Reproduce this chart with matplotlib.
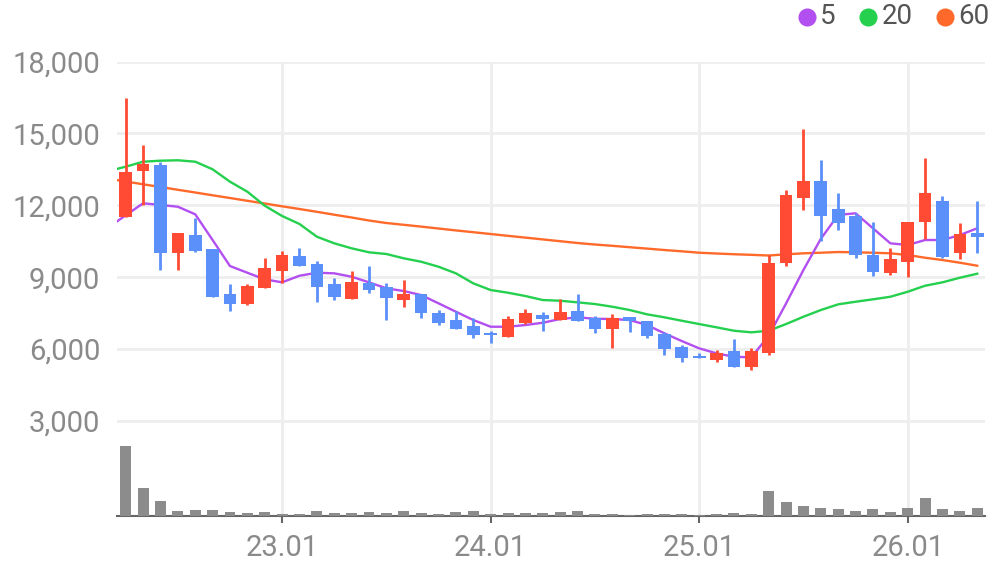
import matplotlib
matplotlib.use("Agg")
import matplotlib.pyplot as plt
from matplotlib.lines import Line2D
import numpy as np

plt.rcParams['font.family'] = ['Roboto', 'DejaVu Sans']

# ---- data (monthly candles, 2022-04 .. 2026-05) ----
opens  = [11500, 13430, 13670, 10010, 10750, 10170, 8290, 7890, 8550, 9260,
          9875, 9540, 8710, 8080, 8740, 8570, 8040, 8290, 7510, 7210,
          6960, 6680, 6510, 7100, 7430, 7210, 7580, 7300, 6820, 7330,
          7150, 6640, 6080, 5700, 5540, 5930, 5240, 5820, 9600, 12310,
          13000, 11860, 11550, 9920, 9180, 9640, 11300, 12170, 10010, 10860]
highs  = [16500, 14500, 13830, 10860, 11470, 10170, 8710, 8700, 9790, 10080,
          10220, 9670, 8950, 9250, 9460, 8740, 8875, 8290, 7625, 7580,
          7280, 6760, 7375, 7670, 7540, 8080, 8290, 7375, 7460, 7330,
          7150, 6720, 6170, 5850, 5960, 6420, 6030, 9940, 12625, 15170,
          13875, 12510, 11690, 11300, 10220, 11300, 13970, 12375, 11260, 12170]
lows   = [11500, 12000, 9290, 9290, 10050, 8180, 7600, 7850, 8550, 8760,
          9470, 7970, 8040, 8080, 8350, 7210, 7760, 7300, 7010, 6850,
          6470, 6240, 6510, 7040, 6760, 7210, 7170, 6680, 6050, 6720,
          6470, 5760, 5470, 5600, 5470, 5240, 5100, 5750, 9470, 11790,
          10510, 10960, 9800, 9050, 9080, 9010, 10610, 9800, 9750, 10010]
closes = [13400, 13740, 10010, 10860, 10100, 8180, 7890, 8625, 9375, 9920,
          9470, 8600, 8180, 8800, 8460, 8125, 8290, 7510, 7100, 6850,
          6570, 6590, 7250, 7500, 7240, 7540, 7170, 6820, 7300, 7150,
          6550, 5990, 5600, 5600, 5830, 5240, 5930, 9570, 12420, 13000,
          11550, 11240, 9920, 9220, 9750, 11300, 12510, 9850, 10790, 10680]
volumes = [700, 277, 147, 50, 60, 60, 40, 30, 40, 17,
           17, 50, 30, 30, 40, 30, 50, 30, 17, 40,
           50, 17, 30, 30, 30, 40, 50, 17, 17, 7,
           17, 17, 17, 7, 17, 30, 17, 247, 137, 97,
           77, 67, 50, 67, 40, 77, 177, 67, 50, 77]

# moving averages (index -1 .. 49)
ma5  = [11076, 11582, 12084, 12013, 11941, 11624, 10550, 9463, 9183, 8907, 8782,
        9058, 9183, 9158, 9016, 8782, 8531, 8419, 8251, 7905, 7554,
        7207, 6927, 6927, 6998, 7094, 7249, 7320, 7261, 7249, 7207,
        6998, 6651, 6329, 6024, 5815, 5673, 5648, 6550, 7900, 9300,
        10600, 11600, 11666, 11039, 10412, 10341, 10550, 10550, 10759, 11039]
ma20 = [13430, 13613, 13822, 13864, 13881, 13822, 13504, 12986, 12568, 11983, 11553,
        11219, 10688, 10412, 10203, 10036, 9965, 9785, 9643, 9434, 9158,
        8740, 8460, 8348, 8210, 8042, 8013, 7946, 7875, 7763, 7625,
        7445, 7320, 7177, 7039, 6902, 6760, 6693, 6760, 7039, 7345,
        7625, 7863, 7971, 8072, 8180, 8389, 8640, 8782, 8974, 9142]
ma60 = [13110, 12995, 12878, 12765, 12648, 12535, 12418, 12305, 12188, 12075, 11958,
        11845, 11728, 11607, 11490, 11365, 11260, 11185, 11110, 11030, 10951,
        10876, 10800, 10725, 10650, 10575, 10500, 10425, 10362, 10308, 10249,
        10191, 10132, 10078, 10019, 9986, 9956, 9931, 9902, 9952, 9994,
        10019, 10048, 10036, 10019, 9994, 9923, 9810, 9714, 9602, 9476]

y_ticks = [3000, 6000, 9000, 12000, 15000, 18000]
x_tick_pos = [9, 21, 33, 45]
x_tick_labels = ['23.01', '24.01', '25.01', '26.01']
legend_labels = ['5', '20', '60']

UP = '#ff4b33'
DOWN = '#5b8ff9'
C5, C20, C60 = '#b24ff0', '#25d04e', '#ff6a2b'
GRID = '#eeeeee'
TXT = '#8a8a8a'

fig = plt.figure(figsize=(9.96, 5.67), dpi=100)
ax = fig.add_axes([0.1175, 0.0908, 0.8715, 0.8004])

n = len(closes)
x = np.arange(n)
xm = np.arange(-1, n)

# grid
for yt in y_ticks:
    ax.axhline(yt, color=GRID, lw=2, zorder=0)
for xt in x_tick_pos:
    ax.axvline(xt, color=GRID, lw=2.2, zorder=0)

# moving averages
ax.plot(xm, ma60, color=C60, lw=1.7, zorder=2)
ax.plot(xm, ma20, color=C20, lw=1.7, zorder=2)
ax.plot(xm, ma5, color=C5, lw=1.7, zorder=2)

# candles
o = np.array(opens); c = np.array(closes)
h = np.array(highs); l = np.array(lows)
colors = [UP if cc >= oo else DOWN for oo, cc in zip(o, c)]
ax.vlines(x, l, h, colors=colors, lw=2.0, zorder=3)
bottoms = np.minimum(o, c)
heights = np.maximum(np.abs(c - o), 60)
ax.bar(x, heights, bottom=bottoms, width=0.73, color=colors, zorder=4)

ax.set_xlim(-0.5, 49.45)
ax.set_ylim(-960, 18000)
ax.set_yticks(y_ticks)
ax.set_yticklabels([f'{v:,}' for v in y_ticks])
ax.set_xticks(x_tick_pos)
ax.set_xticklabels(x_tick_labels)
ax.tick_params(axis='y', length=0, pad=12, labelsize=21, labelcolor=TXT)
ax.tick_params(axis='x', length=5, width=1.5, color='#666666', pad=8,
               labelsize=21, labelcolor=TXT)
for s in ['top', 'left', 'right']:
    ax.spines[s].set_visible(False)
ax.spines['bottom'].set_color('#666666')
ax.spines['bottom'].set_linewidth(1.5)
ax.spines['bottom'].set_zorder(6)

# volume
vax = ax.twinx()
vax.bar(x, volumes, width=0.63, color='#8c8c8c', zorder=1)
vax.set_ylim(0, 4538)
vax.set_xlim(-0.5, 49.45)
vax.set_yticks([])
for s in vax.spines.values():
    s.set_visible(False)

# legend (top right)
leg_x = [806.7, 868.3, 945.3]
leg_c = [C5, C20, C60]
for lx, lc, lt in zip(leg_x, leg_c, legend_labels):
    fx = lx / 996
    fy = 1 - 17 / 567
    fig.add_artist(Line2D([fx], [fy], marker='o', markersize=12, color=lc,
                          transform=fig.transFigure, linestyle='none'))
    fig.text(fx + 13 / 996, fy, lt, fontsize=20, color='#555555',
             ha='left', va='center')

fig.savefig('out.png', dpi=100)
